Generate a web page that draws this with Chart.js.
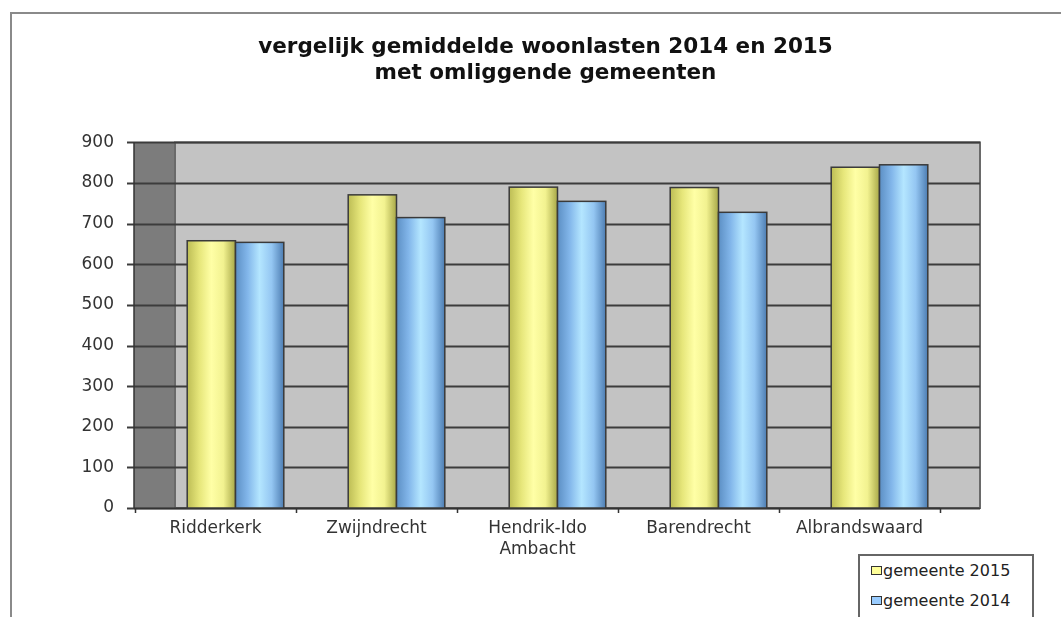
<!DOCTYPE html>
<html>
<head>
<meta charset="utf-8">
<script src="https://cdn.jsdelivr.net/npm/chart.js@4"></script>
<style>
    body { margin: 0; background: #fff; }
    #wrap { position: relative; width: 1061px; height: 617px; overflow: hidden; }
    #frame { position: absolute; left: 10px; top: 12px; right: -10px; bottom: -10px;
             border-top: 2px solid #8a8a8a; border-left: 2px solid #8a8a8a; }
    #chart { position: absolute; left: 0; top: 0; }
    #legend { position: absolute; left: 858px; top: 554px; width: 172px; height: 80px;
              border: 2px solid #666; background: #fff; font-family: "DejaVu Sans", sans-serif;
              font-size: 16px; color: #222; }
    .item { position: absolute; left: 11px; height: 18px; line-height: 18px; }
    .swatch { display: inline-block; width: 9px; height: 7px; border: 1px solid #333; margin-right: 1px; vertical-align: 1px; }
</style>
</head>
<body>
<div id="wrap">
    <div id="frame"></div>
    <canvas id="chart" width="1061" height="617"></canvas>
    <div id="legend"></div>
</div>
<script>
// Data
const gemeenten = ['Ridderkerk', 'Zwijndrecht', ['Hendrik-Ido', 'Ambacht'], 'Barendrecht', 'Albrandswaard'];
const lasten2015 = [658, 771, 790, 789, 839];
const lasten2014 = [654, 715, 755, 728, 845];
const yTicks = [0, 100, 200, 300, 400, 500, 600, 700, 800, 900];

const seriesNames = ['gemeente 2015', 'gemeente 2014'];
const seriesColors = ['#ffff99', '#99ccff'];
const shades = [
    ['#bdbd55', '#e6e67a', '#ffffa6', '#f2f290', '#a8a848'],
    ['#5c8fc4', '#82b6ea', '#b4e6ff', '#94c6f2', '#4d7db2']
];
const depth = 20;

// Back wall, side wall, gridlines and axes in the old 3D style
const wallsPlugin = {
    id: 'walls',
    afterLayout(chart) {
        // title is centred over the whole frame, not the padded box
        if (chart.titleBlock) {
            chart.titleBlock.left += 38;
            chart.titleBlock.right += 38;
        }
    },
    beforeDatasetsDraw(chart) {
        const ctx = chart.ctx;
        const { left, right, top, bottom } = chart.chartArea;
        const yScale = chart.scales.y;
        const xScale = chart.scales.x;
        ctx.save();
        // side wall
        ctx.fillStyle = '#7c7c7c';
        ctx.fillRect(left - depth - 1, top, depth * 2 + 1, bottom - top);
        // back wall
        ctx.fillStyle = '#c3c3c3';
        ctx.fillRect(left + depth, top, right - left, bottom - top);
        ctx.strokeStyle = '#6a6a6a';
        ctx.lineWidth = 2;
        ctx.strokeRect(left + depth, top, right - left, bottom - top);

        // gridlines + tick marks
        yTicks.forEach(v => {
            const y = Math.round(yScale.getPixelForValue(v)) + 0.5;
            ctx.strokeStyle = '#3c3c3c';
            ctx.lineWidth = 2;
            ctx.beginPath();
            ctx.moveTo(left - depth - 8, y);
            ctx.lineTo(right + depth, y);
            ctx.stroke();
        });

        // y axis line
        ctx.strokeStyle = '#333';
        ctx.lineWidth = 1.5;
        ctx.beginPath();
        ctx.moveTo(left - depth - 1, top);
        ctx.lineTo(left - depth - 1, bottom);
        ctx.stroke();

        // x axis line with category boundary ticks
        const n = gemeenten.length;
        ctx.beginPath();
        ctx.moveTo(left - depth - 1, bottom + 0.5);
        ctx.lineTo(right - depth, bottom + 0.5);
        for (let i = 0; i <= n; i++) {
            const xb = Math.round(xScale.left + i * xScale.width / n - depth) + 0.5;
            ctx.moveTo(xb, bottom);
            ctx.lineTo(xb, bottom + 5);
        }
        ctx.stroke();
        ctx.restore();
    }
};

// Cylinder-like shading of the columns
const shadePlugin = {
    id: 'shade',
    afterDatasetsDraw(chart) {
        const ctx = chart.ctx;
        chart.data.datasets.forEach((ds, di) => {
            const meta = chart.getDatasetMeta(di);
            meta.data.forEach(bar => {
                const { x, y, base, width } = bar.getProps(['x', 'y', 'base', 'width'], true);
                const x0 = x - width / 2;
                const g = ctx.createLinearGradient(x0, 0, x0 + width, 0);
                const stops = shades[di];
                stops.forEach((c, k) => g.addColorStop(k / (stops.length - 1), c));
                ctx.save();
                ctx.fillStyle = g;
                ctx.fillRect(x0, y, width, base - y);
                ctx.strokeStyle = '#3a3a3a';
                ctx.lineWidth = 1.5;
                ctx.strokeRect(x0, y, width, base - y);
                ctx.restore();
            });
        });
    }
};

document.addEventListener('DOMContentLoaded', function() {
    const ctx = document.getElementById('chart').getContext('2d');
    const font = { family: '"DejaVu Sans", sans-serif', size: 17, lineHeight: 1.25 };

    new Chart(ctx, {
        type: 'bar',
        data: {
            labels: gemeenten,
            datasets: [
                { label: seriesNames[0], data: lasten2015, backgroundColor: seriesColors[0], borderColor: '#3a3a3a', borderWidth: 1 },
                { label: seriesNames[1], data: lasten2014, backgroundColor: seriesColors[1], borderColor: '#3a3a3a', borderWidth: 1 }
            ]
        },
        options: {
            responsive: false,
            animation: false,
            layout: { padding: { left: 55, right: 101, top: 34, bottom: 49 } },
            categoryPercentage: 0.6,
            barPercentage: 1.0,
            plugins: {
                legend: { display: false },
                tooltip: { enabled: false },
                title: {
                    display: true,
                    text: ['vergelijk gemiddelde woonlasten 2014 en 2015', 'met omliggende gemeenten'],
                    color: '#111',
                    font: { family: '"DejaVu Sans", sans-serif', size: 21.5, weight: 'bold', lineHeight: 1.22 },
                    padding: { top: 0, bottom: 56 }
                }
            },
            scales: {
                x: {
                    grid: { display: false },
                    border: { display: false },
                    afterFit: s => { s.height = 60; },
                    ticks: { color: '#333', font: font, labelOffset: -depth, padding: 2, maxRotation: 0, autoSkip: false }
                },
                y: {
                    min: 0,
                    max: 900,
                    grid: { display: false },
                    border: { display: false },
                    afterFit: s => { s.width = 100; },
                    afterBuildTicks: s => { s.ticks = yTicks.map(v => ({ value: v })); },
                    ticks: { color: '#333', font: { family: '"DejaVu Sans", sans-serif', size: 17 }, padding: 33 }
                }
            }
        },
        plugins: [wallsPlugin, shadePlugin]
    });

    // Legend box in the lower right corner
    const legend = document.getElementById('legend');
    seriesNames.forEach((name, i) => {
        const item = document.createElement('div');
        item.className = 'item';
        item.style.top = (6 + i * 30) + 'px';
        const sw = document.createElement('span');
        sw.className = 'swatch';
        sw.style.background = seriesColors[i];
        item.appendChild(sw);
        item.appendChild(document.createTextNode(name));
        legend.appendChild(item);
    });
});
</script>
</body>
</html>
